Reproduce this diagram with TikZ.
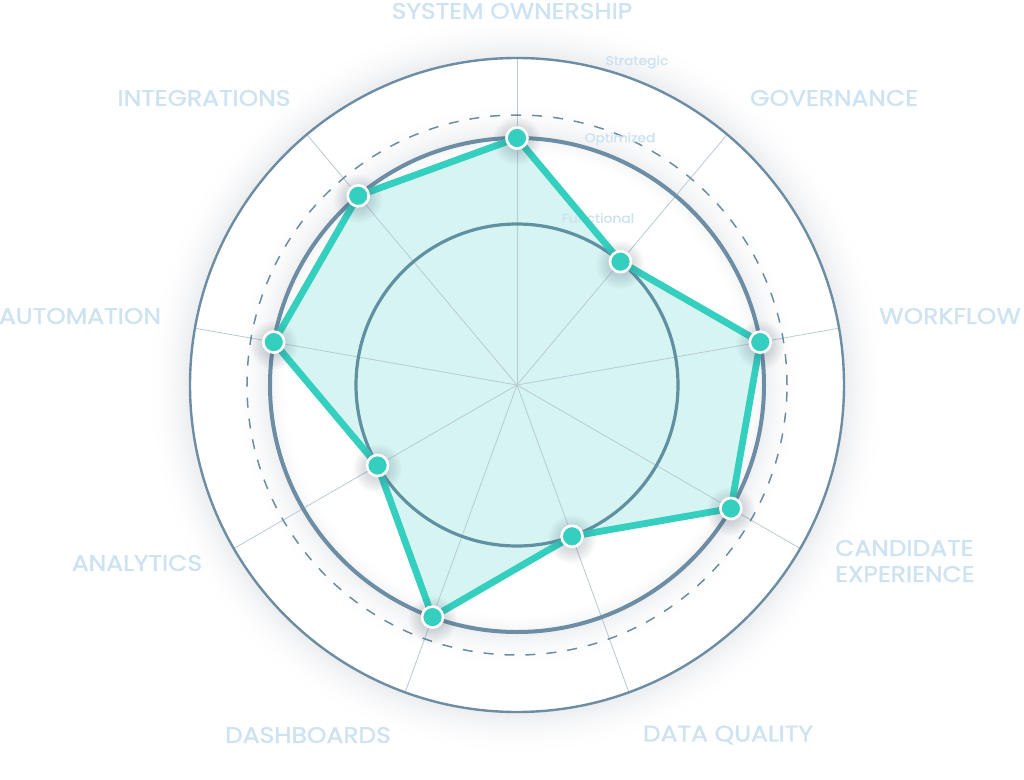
\documentclass[tikz,border=0pt]{standalone}
\usepackage{fontspec}
\setmainfont{Poppins}
\newfontfamily\lblfont{Poppins}[FakeBold=1.4, FakeStretch=1.11]
\definecolor{lbl}{RGB}{206,227,242}
\definecolor{lvl}{RGB}{205,226,242}
\definecolor{ring}{RGB}{108,141,163}
\definecolor{ringin}{RGB}{96,145,163}
\definecolor{spokec}{RGB}{186,202,212}
\definecolor{tealc}{RGB}{52,207,190}
\definecolor{tealfill}{RGB}{214,244,242}
\definecolor{shadowc}{RGB}{70,85,110}
\begin{document}
\begin{tikzpicture}[x=1pt,y=1pt,
  axislabel/.style={text=lbl, font=\lblfont\fontsize{22.5}{26}\selectfont, inner sep=0pt},
  levellabel/.style={text=lvl, font=\lblfont\fontsize{12.5}{15}\selectfont, inner sep=0pt},
  spokeline/.style={draw=spokec, line width=0.8pt},
  marker/.style={circle, fill=tealc, draw=white, line width=2.6pt, minimum size=21pt, inner sep=0pt},
  polyline/.style={draw=tealc, line width=6.8pt, line join=round}]
\useasboundingbox (-517,-394) rectangle (507,385);
\fill[white] (-517,-394) rectangle (507,385);
\coordinate (O) at (0,0);
% outer soft shadow
\foreach \r in {372,371,...,327} {
  \pgfmathsetmacro\pp{11*((372-\r)/45)^2}
  \fill[shadowc!\pp!white] (O) circle (\r);
}
\fill[white] (O) circle (327);
% shadow around the Optimized ring (outside)
\foreach \r in {285,284,...,247} {
  \pgfmathsetmacro\pp{10*((285-\r)/38)^2}
  \fill[shadowc!\pp!white] (O) circle (\r);
}
\fill[white] (O) circle (247);
% shadow around the Optimized ring (inside)
\foreach \r in {228,229,...,247} {
  \pgfmathsetmacro\pp{7*((\r-228)/19)^2}
  \draw[shadowc!\pp!white, line width=1.3pt] (O) circle (\r);
}
% data points
\coordinate (pSO) at (90:247);
\coordinate (pGO) at (50:161);
\coordinate (pWF) at (10:247);
\coordinate (pCE) at (-30:247);
\coordinate (pDQ) at (-70:161);
\coordinate (pDB) at (-110:247);
\coordinate (pAN) at (-150:161);
\coordinate (pAU) at (170:247);
\coordinate (pIN) at (130:247);
\fill[tealfill] (pSO) -- (pGO) -- (pWF) -- (pCE) -- (pDQ) -- (pDB) -- (pAN) -- (pAU) -- (pIN) -- cycle;
% spokes
\foreach \a [count=\i] in {90,50,10,-30,-70,-110,-150,170,130} {
  \coordinate (e\i) at (\a:327);
  \draw[spokeline] (O) -- (e\i);
}
% rings
\draw[ringin, line width=3.2pt] (O) circle (161);
\draw[ring, line width=4pt] (O) circle (247);
\draw[ring, line width=1.5pt, dash pattern=on 10pt off 11pt] (O) circle (270);
\draw[ring, line width=2.4pt] (O) circle (327);
% level labels
\node[levellabel] (lS) at (120,323) {Strategic};
\node[levellabel] (lO) at (103,246) {Optimized};
\node[levellabel] (lF) at (81,167) {Functional};
% axis labels
\node[axislabel] (tSO) at (-5,374) {SYSTEM OWNERSHIP};
\node[axislabel] (tGO) at (317,287) {GOVERNANCE};
\node[axislabel] (tWF) at (433,69) {WORKFLOW};
\node[axislabel, anchor=west, align=left] (tCE) at (318,-176) {CANDIDATE\\EXPERIENCE};
\node[axislabel] (tDQ) at (211,-350) {DATA QUALITY};
\node[axislabel] (tDB) at (-209,-350) {DASHBOARDS};
\node[axislabel] (tAN) at (-380,-178) {ANALYTICS};
\node[axislabel] (tAU) at (-437,69) {AUTOMATION};
\node[axislabel] (tIN) at (-313,287) {INTEGRATIONS};
% polygon outline
\draw[polyline] (pSO) -- (pGO) -- (pWF) -- (pCE) -- (pDQ) -- (pDB) -- (pAN) -- (pAU) -- (pIN) -- cycle;
% marker shadows
\foreach \c in {pSO,pGO,pWF,pCE,pDQ,pDB,pAN,pAU,pIN} {
  \foreach \r in {24,22,...,12} {
    \fill[shadowc, fill opacity=0.03] ([yshift=-3pt]\c) circle (\r);
  }
}
% markers
\foreach \c in {pSO,pGO,pWF,pCE,pDQ,pDB,pAN,pAU,pIN} {
  \node[marker] (m\c) at (\c) {};
}
\end{tikzpicture}
\end{document}
